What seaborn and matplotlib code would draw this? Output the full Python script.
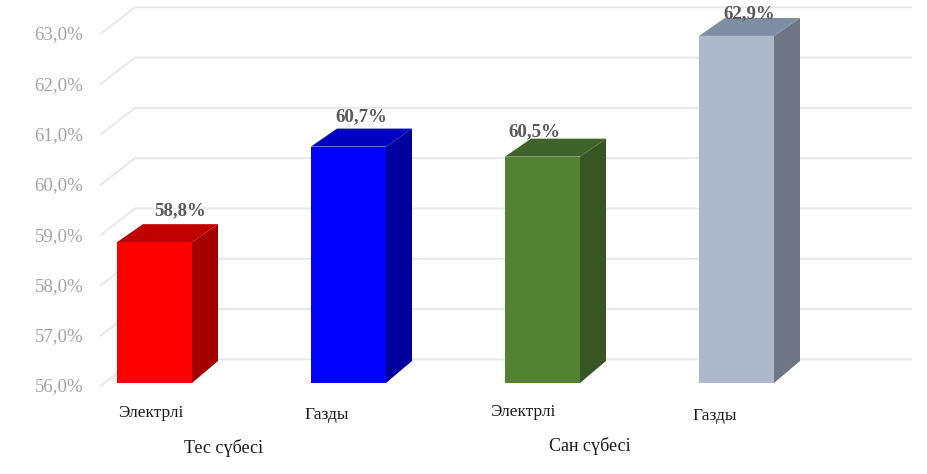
import matplotlib
matplotlib.use("Agg")
import matplotlib.pyplot as plt
from matplotlib.patches import Polygon
from matplotlib.transforms import ScaledTranslation
import pandas as pd
import seaborn as sns

types = ["Электрлі", "Газды", "Электрлі", "Газды"]
keys = ["Тес сүбесі / Электрлі", "Тес сүбесі / Газды", "Сан сүбесі / Электрлі", "Сан сүбесі / Газды"]
values = [58.8, 60.7, 60.5, 62.9]
value_labels = ["58,8%", "60,7%", "60,5%", "62,9%"]
y_ticks = [56, 57, 58, 59, 60, 61, 62, 63]
y_tick_labels = ["56,0%", "57,0%", "58,0%", "59,0%", "60,0%", "61,0%", "62,0%", "63,0%"]
groups = ["Тес сүбесі", "Сан сүбесі"]

front_colors = ["#ff0000", "#0000ff", "#548235", "#adb9ca"]
side_colors = ["#a50000", "#00009f", "#375623", "#6e7686"]
top_colors = ["#c00000", "#0000c0", "#3f6328", "#7f8fa3"]
value_offsets = [(26, 31), (13, 30), (-8, 25), (13, 22)]
type_offsets = [(-4, -30), (-22, -32), (-20, -29), (-22, -33)]
group_offsets = [(69, -65), (47, -63)]

sns.set_theme(style="white")
plt.rcParams["font.family"] = ["Liberation Serif", "DejaVu Serif"]

W, H = 927, 474
fig = plt.figure(figsize=(W / 100, H / 100), dpi=100)
ax = fig.add_axes([100 / W, (H - 383) / H, 812 / W, 383 / H])

df = pd.DataFrame({"key": keys, "value": values})
sns.barplot(data=df, x="key", y="value", hue="key", order=keys, hue_order=keys,
            palette=front_colors, width=75 / 194, saturation=1, legend=False,
            dodge=False, ax=ax, zorder=3, linewidth=0)

px_x, px_y = 1 / 194, 1 / 50.3
ax.set_xlim(-54.5 * px_x, 757.5 * px_x)
ax.set_ylim(56, 56 + 383 * px_y)
sns.despine(ax=ax, left=True, bottom=True)
ax.set_xticks([])
ax.set_xlabel("")
ax.set_ylabel("")
ax.set_yticks(y_ticks, y_tick_labels)
ax.tick_params(axis="y", length=0, pad=12, labelsize=13.6, labelcolor="#a3a3a3")
for lab in ax.get_yticklabels():
    lab.set_transform(lab.get_transform() + ScaledTranslation(0, -2 / 100, fig.dpi_scale_trans))

# back wall: slanted stub from the tick, then a horizontal gridline
x_left, x_right = ax.get_xlim()
for t in y_ticks:
    ax.plot([x_left, x_left + 35 * px_x, x_right],
            [t - 0.07, t + 0.47, t + 0.47],
            color="#e8e8e8", lw=1.4, zorder=1, clip_on=False, solid_capstyle="butt")

# 3-D faces built from the bars that seaborn drew
bars = sorted(ax.patches, key=lambda b: b.get_x())
base = ax.get_ylim()[0]
for bar, side, top in zip(bars, side_colors, top_colors):
    x0, x1 = bar.get_x(), bar.get_x() + bar.get_width()
    y1 = bar.get_y() + bar.get_height()
    y0 = max(bar.get_y(), base)
    dx, dyb, dyt = 26 * px_x, 22 * px_y, 18 * px_y
    ax.add_patch(Polygon([(x1, y0), (x1 + dx, y0 + dyb), (x1 + dx, y1 + dyt), (x1, y1)],
                         fc=side, ec="none", zorder=3, clip_on=False))
    ax.add_patch(Polygon([(x0, y1), (x1, y1), (x1 + dx, y1 + dyt), (x0 + dx, y1 + dyt)],
                         fc=top, ec="none", zorder=3, clip_on=False))

for i, (v, lab, off) in enumerate(zip(values, value_labels, value_offsets)):
    ax.annotate(lab, xy=(i, v), xytext=off, textcoords="offset pixels", ha="center", va="center",
                fontsize=13.6, fontweight="bold", color="#595959", zorder=5, annotation_clip=False)

for i, (lab, off) in enumerate(zip(types, type_offsets)):
    ax.annotate(lab, xy=(i, 56), xytext=off, textcoords="offset pixels", ha="center", va="center",
                fontsize=12.5, color="#1a1a1a", annotation_clip=False)

for i, (lab, off) in zip([0, 2], zip(groups, group_offsets)):
    ax.annotate(lab, xy=(i, 56), xytext=off, textcoords="offset pixels", ha="center", va="center",
                fontsize=13, color="#1a1a1a", annotation_clip=False)

fig.savefig("out.png", dpi=100, facecolor="white")
